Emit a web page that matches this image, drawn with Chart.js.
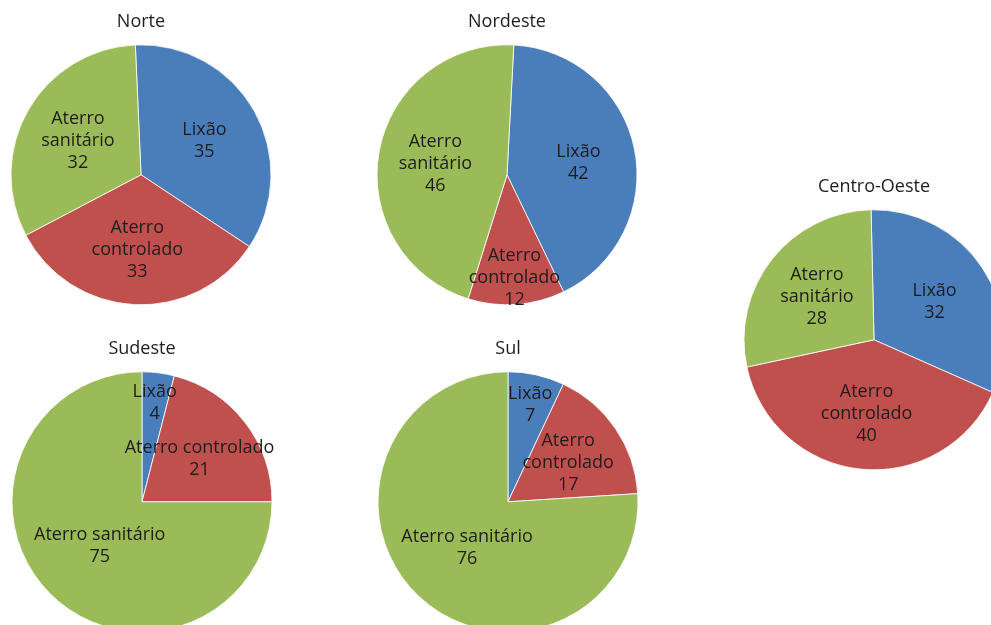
<!DOCTYPE html>
<html>
<head>
<meta charset="utf-8">
<script src="https://cdn.jsdelivr.net/npm/chart.js@4.4.1/dist/chart.umd.min.js"></script>
<style>
html, body { margin: 0; padding: 0; background: #fff; }
body { position: relative; width: 991px; height: 625px; overflow: hidden; }
.box { position: absolute; width: 300px; height: 296px; }
</style>
</head>
<body>
<div class="box" style="left:-9px;top:11px"><canvas id="norte"></canvas></div>
<div class="box" style="left:357px;top:11px"><canvas id="nordeste"></canvas></div>
<div class="box" style="left:724px;top:176px"><canvas id="centroOeste"></canvas></div>
<div class="box" style="left:-8px;top:338px"><canvas id="sudeste"></canvas></div>
<div class="box" style="left:358px;top:338px"><canvas id="sul"></canvas></div>
<script>
// Destinação dos resíduos por região (%)
const categories = ['Lixão', 'Aterro controlado', 'Aterro sanitário'];
const norte = [35, 33, 32];
const nordeste = [42, 12, 46];
const centroOeste = [32, 40, 28];
const sudeste = [4, 21, 75];
const sul = [7, 17, 76];

const colors = ['#4a7ebb', '#c0504d', '#9bbb59'];
const textColor = '#1f1c1d';
const fontFamily = "'Open Sans', 'DejaVu Sans', sans-serif";

// Rótulos que o Excel deixou numa linha só
const singleLine = {
	sudeste: [1, 2],
	sul: [2],
};

// Escreve nome + valor dentro de cada fatia
const sliceLabels = {
	id: 'sliceLabels',
	afterDatasetsDraw(chart, args, opts) {
		const ctx = chart.ctx;
		const meta = chart.getDatasetMeta(0);
		const values = chart.data.datasets[0].data;
		ctx.save();
		ctx.font = '18px ' + fontFamily;
		ctx.fillStyle = textColor;
		ctx.textAlign = 'center';
		ctx.textBaseline = 'middle';
		meta.data.forEach((arc, i) => {
			const p = arc.getProps(['x', 'y', 'startAngle', 'endAngle', 'outerRadius'], true);
			const mid = (p.startAngle + p.endAngle) / 2;
			const v = values[i];
			let frac = 0.56;
			if (v < 15) frac = 0.78;
			else if (v > 60) frac = 0.46;
			const cx = p.x + Math.cos(mid) * p.outerRadius * frac;
			const cy = p.y + Math.sin(mid) * p.outerRadius * frac + 2;
			const name = chart.data.labels[i];
			let lines;
			if ((opts.oneLine || []).includes(i) || name.indexOf(' ') < 0) {
				lines = [name, String(v)];
			} else {
				lines = name.split(' ').concat([String(v)]);
			}
			const lh = 22;
			const y0 = cy - (lines.length - 1) * lh / 2;
			lines.forEach((t, k) => ctx.fillText(t, cx, y0 + k * lh));
		});
		ctx.restore();
	},
};

function makePie(id, title, values, rotation) {
	const ctx = document.getElementById(id).getContext('2d');
	return new Chart(ctx, {
		type: 'pie',
		data: {
			labels: categories,
			datasets: [
				{
					data: values,
					backgroundColor: colors,
					borderColor: 'rgba(255,255,255,0.8)',
					borderWidth: 1,
					radius: 130,
				},
			],
		},
		options: {
			responsive: true,
			maintainAspectRatio: false,
			animation: false,
			rotation: rotation,
			layout: { padding: 0 },
			plugins: {
				legend: { display: false },
				tooltip: { enabled: false },
				title: {
					display: true,
					text: title,
					color: textColor,
					font: { family: fontFamily, size: 18, weight: 'normal' },
					padding: { top: 0, bottom: 10 },
				},
				sliceLabels: { oneLine: singleLine[id] },
			},
		},
		plugins: [sliceLabels],
	});
}

makePie('norte', 'Norte', norte, -2.5);
makePie('nordeste', 'Nordeste', nordeste, 3);
makePie('centroOeste', 'Centro-Oeste', centroOeste, -1.3);
makePie('sudeste', 'Sudeste', sudeste, 0);
makePie('sul', 'Sul', sul, 0);
</script>
</body>
</html>
